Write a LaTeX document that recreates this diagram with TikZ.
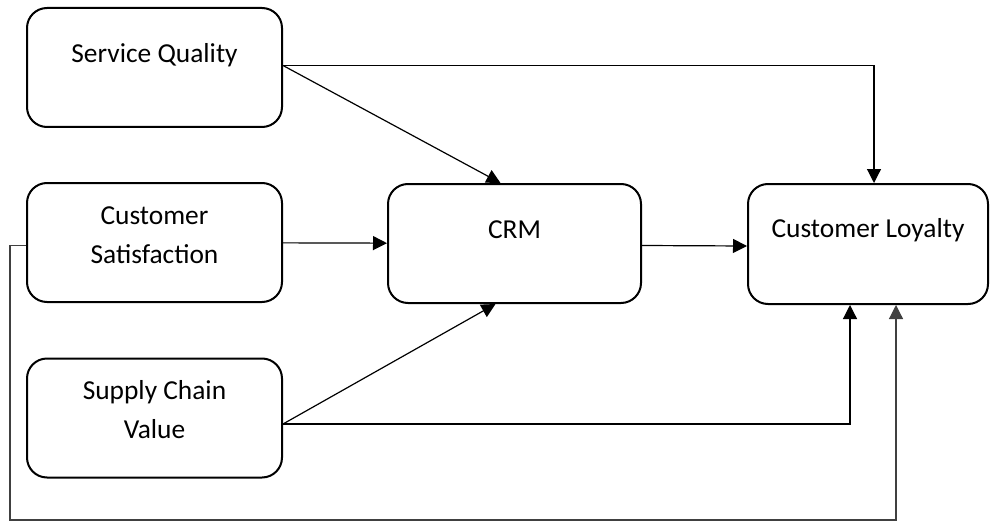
\documentclass[tikz,border=0pt]{standalone}
\usepackage{fontspec}
\setmainfont{Carlito}
\usetikzlibrary{arrows.meta}
\begin{document}
\begin{tikzpicture}[
  x=0.5pt,
  y=-0.5pt,
  block/.style={draw, line width=1pt, rounded corners=10pt,
    inner sep=0pt, minimum width=127.5pt, minimum height=59.5pt},
  every label/.style={align=center, font=\fontsize{13.7}{19.5}\selectfont},
  link/.style={line width=0.6pt, -{Triangle[length=7pt,width=7pt]}}
  ]
\useasboundingbox (0,0) rectangle (990,524);
\draw
  (154.5,67.5) node[block, label={[yshift=6pt]center:Service Quality}] (quality) {}
  (154.5,242.5) node[block, label={[yshift=3.5pt]center:Customer\\Satisfaction}] (satisfaction) {}
  (154.5,418) node[block, label={[yshift=4pt]center:Supply Chain\\Value}] (supply) {}
  (514.5,243.5) node[block, minimum width=126.5pt, label={[yshift=7pt]center:CRM}] (crm) {}
  (868,244) node[block, minimum width=120pt, minimum height=60pt,
    label={[yshift=7pt]center:Customer Loyalty}] (loyalty) {}
  ;
\coordinate (corner) at (10,520);
\draw[link] ([yshift=1pt]quality.east) -| ([xshift=3pt]loyalty.north);
\draw[link] ([yshift=1pt]quality.east) -- ([xshift=-7pt]crm.north);
\draw[link] (satisfaction) -- (crm);
\draw[link] ([yshift=-1pt]crm.east) -- ([yshift=-1pt]loyalty.west);
\draw[link] ([yshift=-3pt]supply.east) -- ([xshift=-9.5pt]crm.south);
\draw[link] ([yshift=-3pt]supply.east) -| ([xshift=-9pt]loyalty.south);
\draw[link, black!75] ([yshift=-1.5pt]satisfaction.west) -| (corner) -| ([xshift=14pt]loyalty.south);
\end{tikzpicture}
\end{document}
